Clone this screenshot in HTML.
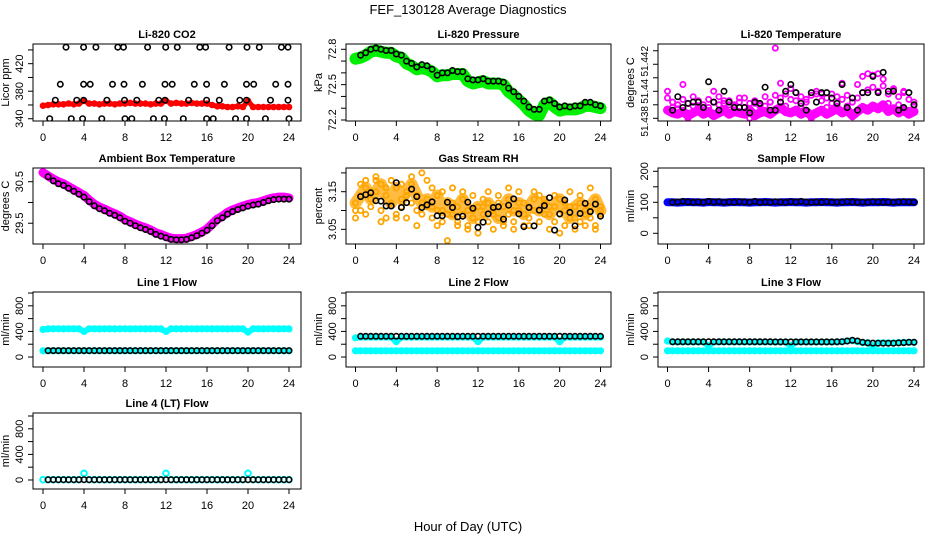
<!DOCTYPE html>
<html><head><meta charset="utf-8"><title>FEF_130128 Average Diagnostics</title>
<style>
html,body{margin:0;padding:0;background:#fff;}
svg{display:block;font-family:"Liberation Sans",Arial,sans-serif;}
</style></head>
<body>
<svg id="chart" width="936" height="540" viewBox="0 0 936 540" xmlns="http://www.w3.org/2000/svg">
<rect width="936" height="540" fill="#fff"/>
<text x="468" y="14" text-anchor="middle" font-size="13">FEF_130128  Average Diagnostics</text>
<text x="468" y="531" text-anchor="middle" font-size="13">Hour of Day (UTC)</text>
</svg>
<script>
const hours = [0,0.5,1,1.5,2,2.5,3,3.5,4,4.5,5,5.5,6,6.5,7,7.5,8,8.5,9,9.5,10,10.5,11,11.5,12,12.5,13,13.5,14,14.5,15,15.5,16,16.5,17,17.5,18,18.5,19,19.5,20,20.5,21,21.5,22,22.5,23,23.5,24];
const xTickLabels = [0,4,8,12,16,20,24];

const co2Red = [359,360,361,361,361,362,361,362,366,362, 362,361,362,362,361,362,362,363,362,362, 362,361,362,362,366,362,363,362,362,363, 362,362,362,360,358,358,357,357,358,357, 366,357,357,357,357,357,357,357,357];
const co2BlackX = [0.65,2.76,3.86,5.74,8.0,8.66,10.77,11.84,13.69,15.96,16.6,18.78,19.85,21.7,24, 1.2,3.3,3.96,6.23,7.95,9.15,11.3,11.9,14.2,15.96,17.2,19.2,19.85,22.2,23.9, 1.69,3.96,4.6,6.78,7.9,9.7,11.9,12.6,14.76,15.96,17.7,19.85,20.56,22.7,23.9, 2.24,3.96,5.16,7.3,7.85,10.2,11.97,13.1,15.3,15.86,18.16,19.9,21.1,23.26,23.9];
const co2BlackY = [340,340,340,340,340,340,340,340,340,340,340,340,340,340,340, 367,367,367,367,367,367,367,367,367,367,367,367,367,367,367, 390,390,390,390,390,390,390,390,390,390,390,390,390,390,390, 444,444,444,444,444,444,444,444,444,444,444,444,444,444,444];

const presGreen = [72.72,72.73,72.75,72.78,72.79,72.78,72.77,72.77,72.74,72.73, 72.68,72.66,72.63,72.64,72.63,72.61,72.57,72.58,72.58,72.59, 72.59,72.59,72.53,72.51,72.52,72.53,72.51,72.51,72.51,72.50, 72.44,72.41,72.37,72.33,72.28,72.25,72.24,72.33,72.35,72.31, 72.28,72.29,72.29,72.29,72.30,72.32,72.32,72.31,72.30];
const presBlack = [null,72.75,72.77,72.80,72.81,72.80,72.79,72.79,72.76,72.75, 72.70,72.68,72.65,72.67,72.66,72.63,72.58,72.60,72.60,72.62, 72.61,72.61,72.55,72.54,72.54,72.55,72.53,72.53,72.53,72.52, 72.47,72.44,72.40,72.36,72.31,72.29,72.29,72.36,72.37,72.34, 72.31,72.32,72.31,72.32,72.32,72.35,72.35,72.33,72.32];

const tempMagA = [51.4386,51.4384,51.4383,51.4385,51.4382,51.4384,51.4386,51.4383,51.4385,51.4382, 51.4384,51.4386,51.4383,51.4385,51.4384,51.4383,51.4386,51.4382,51.4384,51.4385, 51.4383,51.4386,51.4388,51.4385,51.4384,51.4386,51.4383,51.4385,51.4382,51.4384, 51.4386,51.4383,51.4385,51.4387,51.4384,51.4386,51.4382,51.4385,51.4388,51.4386, 51.4389,51.4387,51.4390,51.4385,51.4387,51.4384,51.4386,51.4383,51.4385];
const tempMagB = [51.4395,51.4392,51.4390,51.4394,51.4391,51.4396,51.4393,51.4390,51.4394,51.4392, 51.4396,51.4391,51.4393,51.4390,51.4392,51.4395,51.4391,51.4393,51.4390,51.4396, 51.4392,51.4397,51.4395,51.4398,51.4394,51.4393,51.4396,51.4392,51.4397,51.4398, 51.4393,51.4395,51.4391,51.4396,51.4394,51.4397,51.4392,51.4395,51.4399,51.4401, 51.4403,51.4400,51.4404,51.4398,51.4401,51.4396,51.4399,51.4394,51.4392];
const tempMagC = [51.4400,51.4388,51.4387,51.4405,51.4380,51.4389,51.4388,51.4386,51.4388,51.4400, 51.4390,51.4393,51.4390,51.4389,51.4395,51.4388,51.4380,51.4391,51.4389,51.4389, 51.4392,51.4432,51.4406,51.4389,51.4402,51.4399,51.4389,51.4394,51.4380,51.4400, 51.4398,51.4388,51.4398,51.4389,51.4406,51.4389,51.4381,51.4405,51.4411,51.4413, 51.4412,51.4413,51.4409,51.4391,51.4402,51.4390,51.4400,51.4386,51.4389];
const tempBlack = [null,51.4386,51.4396,51.4388,51.4391,51.4392,51.4392,51.4388,51.4407,51.4392, 51.4386,51.4400,51.4392,51.4388,51.4388,51.4388,51.4384,51.4392,51.4391,51.4403, 51.4386,51.4386,51.4392,51.4400,51.4405,51.4399,51.4391,51.4386,51.4399,51.4392, 51.4399,51.4399,51.4395,51.4391,51.4405,51.4388,51.4395,51.4386,51.4399,51.4399, 51.4411,51.4399,51.4414,51.4400,51.4400,51.4386,51.4388,51.4399,51.4390];

const ambMag = [30.72,30.64,30.56,30.50,30.45,30.38,30.31,30.24,30.17,30.06, 29.96,29.89,29.84,29.78,29.73,29.67,29.59,29.54,29.48,29.43, 29.39,29.34,29.27,29.23,29.18,29.14,29.13,29.13,29.14,29.18, 29.23,29.29,29.36,29.48,29.60,29.67,29.76,29.82,29.87,29.91, 29.95,29.98,30.00,30.04,30.08,30.11,30.13,30.13,30.11];
const ambBlack = [null,30.62,30.52,30.45,30.41,30.34,30.27,30.20,30.13,30.02, 29.92,29.85,29.80,29.74,29.69,29.63,29.55,29.50,29.44,29.39, 29.35,29.30,29.23,29.19,29.15,29.11,29.10,29.10,29.11,29.15, 29.20,29.26,29.33,29.44,29.56,29.63,29.72,29.78,29.83,29.87, 29.91,29.94,29.96,30.00,30.04,30.07,30.08,30.08,30.08];

const rhOrA = [3.12,3.14,3.16,3.13,3.15,3.17,3.14,3.12,3.16,3.13, 3.15,3.17,3.14,3.12,3.13,3.11,3.14,3.10,3.12,3.09, 3.11,3.13,3.10,3.08,3.11,3.09,3.12,3.10,3.08,3.11, 3.13,3.10,3.12,3.09,3.11,3.13,3.10,3.12,3.09,3.11, 3.13,3.10,3.08,3.11,3.12,3.09,3.11,3.13,3.10];
const rhOrB = [3.08,3.10,3.09,3.11,3.18,3.10,3.08,3.12,3.09,3.11, 3.08,3.12,3.10,3.09,3.11,3.08,3.10,3.07,3.09,3.12, 3.07,3.09,3.06,3.10,3.07,3.11,3.07,3.09,3.12,3.07, 3.09,3.07,3.10,3.06,3.08,3.10,3.07,3.09,3.11,3.07, 3.09,3.06,3.11,3.08,3.07,3.10,3.08,3.06,3.09];
const rhOrC = [3.10,3.17,3.18,3.15,3.19,3.07,3.16,3.18,3.08,3.17, 3.14,3.19,3.06,3.20,3.18,3.16,3.06,3.15,3.02,3.16, 3.06,3.15,3.05,3.14,3.04,3.13,3.15,3.05,3.14,3.06, 3.16,3.05,3.15,3.12,3.06,3.15,3.14,3.13,3.05,3.14, 3.04,3.12,3.15,3.05,3.14,3.06,3.16,3.05,3.11];
const rhBlack = [null,3.137,3.142,3.147,3.126,3.125,3.112,3.112,3.174,3.108, 3.121,3.157,3.137,3.108,3.115,3.123,3.086,3.086,3.122,3.108, 3.083,3.085,3.122,3.106,3.055,3.069,3.091,3.108,3.110,3.077, 3.114,3.131,3.091,3.057,3.108,3.059,3.101,3.113,3.134,3.048, 3.091,3.128,3.095,3.059,3.092,3.119,3.097,3.117,3.085];

const sampBlue = [100,100,99,100,101,100,100,99,101,100, 100,99,100,101,100,100,99,100,100,101, 100,99,100,100,101,100,100,99,100,100, 101,100,100,99,100,100,101,100,99,100, 100,100,101,100,99,100,100,100,100];
const sampBlack = [null,100,101,103,101,100,101,100,103,101, 102,100,101,100,102,101,100,103,100,101, 100,102,101,100,102,101,103,101,100,101, 100,102,100,101,100,102,101,100,101,100, 102,101,100,101,100,101,102,101,100];

const l1CyanHi = [430,440,441,441,440,441,441,440,400,441, 441,440,441,441,440,441,441,440,441,441, 440,441,441,440,400,441,441,440,441,441, 440,441,441,440,441,441,440,441,441,440, 390,441,441,440,441,441,440,441,440];
const l1CyanLo = [97,97,97,97,97,97,97,97,97,97, 97,97,97,97,97,97,97,97,97,97, 97,97,97,97,97,97,97,97,97,97, 97,97,97,97,97,97,97,97,97,97, 97,97,97,97,97,97,97,97,97];
const l1Black = [null,100,100,100,100,100,100,100,100,100, 100,100,100,100,100,100,100,100,100,100, 100,100,100,100,100,100,100,100,100,100, 100,100,100,100,100,100,100,100,100,100, 100,100,100,100,100,100,100,100,100];

const l2CyanHi = [300,310,310,310,310,310,310,310,240,310, 310,310,310,310,310,310,310,310,310,310, 310,310,310,310,240,310,310,310,310,310, 310,310,310,310,310,310,310,310,310,310, 240,310,310,310,310,310,310,310,310];
const l2CyanLo = [97,97,97,97,97,97,97,97,97,97, 97,97,97,97,97,97,97,97,97,97, 97,97,97,97,97,97,97,97,97,97, 97,97,97,97,97,97,97,97,97,97, 97,97,97,97,97,97,97,97,97];
const l2Black = [null,323,323,323,323,323,323,323,323,323, 323,323,323,323,323,323,323,323,323,323, 323,323,323,323,323,323,323,323,323,323, 323,323,323,323,323,323,323,323,323,323, 323,323,323,323,323,323,323,323,323];

const l3CyanHi = [250,235,235,235,235,235,235,235,175,235, 235,235,235,235,235,235,235,235,235,235, 235,235,235,235,175,235,235,235,235,235, 235,235,235,235,240,250,255,240,225,220, 175,220,220,220,220,225,228,230,230];
const l3CyanLo = [97,97,97,97,97,97,97,97,97,97, 97,97,97,97,97,97,97,97,97,97, 97,97,97,97,97,97,97,97,97,97, 97,97,97,97,97,97,97,97,97,97, 97,97,97,97,97,97,97,97,97];
const l3Black = [null,238,238,238,238,238,238,238,238,238, 238,238,238,238,238,238,238,238,238,238, 238,236,236,236,236,236,236,236,236,236, 236,236,236,238,240,250,262,250,230,220, 218,216,216,216,216,220,225,230,230];

const l4Cyan = [5,5,5,5,5,5,5,5,105,5, 5,5,5,5,5,5,5,5,5,5, 5,5,5,5,105,5,5,5,5,5, 5,5,5,5,5,5,5,5,5,5, 105,5,5,5,5,5,5,5,5];
const l4Black = [null,5,5,5,5,5,5,5,5,5, 5,5,5,5,5,5,5,5,5,5, 5,5,5,5,5,5,5,5,5,5, 5,5,5,5,5,5,5,5,5,5, 5,5,5,5,5,5,5,5,5];

const co2Ticks = [340,360,380,400,420,440], co2Labels = ["340","380","420"];
const presTicks = [72.2,72.3,72.4,72.5,72.6,72.7,72.8], presLabels = ["72.2","72.5","72.8"];
const tempTicks = [51.438,51.439,51.44,51.441,51.442,51.443], tempLabels = ["51.438","51.44","51.442"];
const ambTicks = [29.5,30,30.5], ambLabels = ["29.5","30.5"];
const rhTicks = [3.05,3.1,3.15,3.2], rhLabels = ["3.05","3.15"];
const sampTicks = [0,50,100,150,200], sampLabels = ["0","100","200"];
const flowTicks = [0,200,400,600,800,1000], flowLabels = ["0","400","800"];

const NS = "http://www.w3.org/2000/svg";
const svg = document.getElementById('chart');
const cols = [{L:33,R:301,x0:43,x24:289},{L:346,R:611,x0:355.5,x24:600.5},{L:658,R:924,x0:667.5,x24:914}];
const rows = [{T:44,B:121},{T:168,B:244},{T:292,B:367},{T:413,B:489}];
function mk(tag, attrs, parent){const e=document.createElementNS(NS,tag);for(const k in attrs)e.setAttribute(k,attrs[k]);(parent||svg).appendChild(e);return e;}

function panel(cfg){
  const c=cols[cfg.col], r=rows[cfg.row];
  const g=mk('g',{});
  
  
  const xs=h=>c.x0+(h/24)*(c.x24-c.x0);
  const ys=v=>r.B-(v-cfg.ymin)/(cfg.ymax-cfg.ymin)*(r.B-r.T);
  const clip=mk('clipPath',{id:'clip-'+cfg.name},g);
  mk('rect',{x:c.L,y:r.T,width:c.R-c.L,height:r.B-r.T},clip);
  const marks=mk('g',{'clip-path':'url(#clip-'+cfg.name+')'},g);
  
  
  cfg.series.forEach(s=>{
    const sg=mk('g',{},marks);
    
    
    const xv=s.x||hours;
    if(s.band){
      let pts=[];
      s.y.forEach((v,i)=>{if(v!=null)pts.push(xs(xv[i]).toFixed(1)+','+ys(v).toFixed(1));});
      const pl=mk('polyline',{points:pts.join(' '),fill:'none',stroke:s.color,'stroke-opacity':s.bop||1,'stroke-width':s.band,'stroke-linejoin':'round','stroke-linecap':'round'},sg);
      
      
    }
    if(s.pts!==false){
      s.y.forEach((v,i)=>{
        if(v==null)return;
        const ci=mk('circle',{cx:xs(xv[i]).toFixed(1),cy:ys(v).toFixed(1),r:s.r||2.7,fill:'none',stroke:s.color,'stroke-width':s.sw||1.6},sg);
        
        
      });
    }
  });
  const box=mk('rect',{x:c.L,y:r.T,width:c.R-c.L,height:r.B-r.T,fill:'none',stroke:'#000','stroke-width':1},g);
  
  
  const t=mk('text',{x:(c.L+c.R)/2,y:r.T-6,'text-anchor':'middle','font-size':11,'font-weight':'bold'},g);
  t.textContent=cfg.title;
  
  
  xTickLabels.forEach(h=>{
    const x=xs(h);
    const tk=mk('line',{x1:x,y1:r.B,x2:x,y2:r.B+5,stroke:'#000'},g);
    
    
    const tl=mk('text',{x:x,y:r.B+20,'text-anchor':'middle','font-size':11},g);
    tl.textContent=String(h);
    
    
  });
  cfg.ticks.forEach(v=>{
    const y=ys(v);
    const tk=mk('line',{x1:c.L-5,y1:y,x2:c.L,y2:y,stroke:'#000'},g);
    
    
  });
  cfg.labels.forEach((s,i)=>{
    const y=ys(parseFloat(s))+(cfg.loff?cfg.loff[i]:0), x=c.L-10;
    const tl=mk('text',{x:x,y:y,'text-anchor':'middle','font-size':cfg.lfs||11,transform:'rotate(-90 '+x+' '+y+')'},g);
    tl.textContent=s;
    
    
  });
  const ym=(r.T+r.B)/2, xa=c.L-24;
  const at=mk('text',{x:xa,y:ym,'text-anchor':'middle','font-size':11,transform:'rotate(-90 '+xa+' '+ym+')'},g);
  at.textContent=cfg.ylab;
  
  
}

panel({name:'co2',col:0,row:0,title:'Li-820 CO2',ylab:'Licor ppm',ymin:336.7,ymax:448.6,ticks:co2Ticks,labels:co2Labels,
  series:[{name:'co2-raw',y:co2Red,color:'#ff0000',band:5,r:2.4,sw:1.8},{name:'co2-average',x:co2BlackX,y:co2BlackY,color:'#000'}]});
panel({name:'pressure',col:1,row:0,title:'Li-820 Pressure',ylab:'kPa',ymin:72.1915,ymax:72.845,ticks:presTicks,labels:presLabels,
  series:[{name:'pressure-raw',y:presGreen,color:'#00ee00',band:12,r:3,sw:2},{name:'pressure-average',y:presBlack,color:'#000'}]});
panel({name:'temperature',col:2,row:0,title:'Li-820 Temperature',ylab:'degrees C',ymin:51.4378,ymax:51.4435,ticks:tempTicks,labels:tempLabels,lfs:10,loff:[3,0,-3],
  series:[{name:'temperature-raw-a',y:tempMagA,color:'#ff00ff',band:9,r:2.6,sw:1.8},{name:'temperature-raw-b',y:tempMagB,color:'#ff00ff',r:2.6,sw:1.8},{name:'temperature-raw-c',y:tempMagC,color:'#ff00ff',r:2.6,sw:1.8},{name:'temperature-average',y:tempBlack,color:'#000'}]});
panel({name:'ambient-box-temp',col:0,row:1,title:'Ambient Box Temperature',ylab:'degrees C',ymin:29.0,ymax:30.83,ticks:ambTicks,labels:ambLabels,
  series:[{name:'ambient-raw',y:ambMag,color:'#ff00ff',band:9,r:3,sw:2},{name:'ambient-average',y:ambBlack,color:'#000'}]});
panel({name:'gas-stream-rh',col:1,row:1,title:'Gas Stream RH',ylab:'percent',ymin:3.011,ymax:3.213,ticks:rhTicks,labels:rhLabels,
  series:[{name:'rh-raw-a',y:rhOrA,color:'#ffa500',band:12,bop:0.75,r:2.6,sw:1.8},{name:'rh-raw-b',y:rhOrB,color:'#ffa500',r:2.6,sw:1.8},{name:'rh-raw-c',y:rhOrC,color:'#ffa500',r:2.6,sw:1.8},{name:'rh-average',y:rhBlack,color:'#000'}]});
panel({name:'sample-flow',col:2,row:1,title:'Sample Flow',ylab:'ml/min',ymin:-34.5,ymax:210.6,ticks:sampTicks,labels:sampLabels,
  series:[{name:'sample-flow-raw',y:sampBlue,color:'#0000ff',band:8,r:2.6,sw:2},{name:'sample-flow-average',y:sampBlack,color:'#000'}]});
panel({name:'line1-flow',col:0,row:2,title:'Line 1 Flow',ylab:'ml/min',ymin:-156,ymax:1016,ticks:flowTicks,labels:flowLabels,
  series:[{name:'line1-raw-high',y:l1CyanHi,color:'#00ffff',band:6,r:2.6,sw:2},{name:'line1-raw-low',y:l1CyanLo,color:'#00ffff',band:6,r:2.6,sw:2},{name:'line1-average',y:l1Black,color:'#000'}]});
panel({name:'line2-flow',col:1,row:2,title:'Line 2 Flow',ylab:'ml/min',ymin:-156,ymax:1016,ticks:flowTicks,labels:flowLabels,
  series:[{name:'line2-raw-high',y:l2CyanHi,color:'#00ffff',band:6,r:2.6,sw:2},{name:'line2-raw-low',y:l2CyanLo,color:'#00ffff',band:6,r:2.6,sw:2},{name:'line2-average',y:l2Black,color:'#000'}]});
panel({name:'line3-flow',col:2,row:2,title:'Line 3 Flow',ylab:'ml/min',ymin:-156,ymax:1016,ticks:flowTicks,labels:flowLabels,
  series:[{name:'line3-raw-high',y:l3CyanHi,color:'#00ffff',band:6,r:2.6,sw:2},{name:'line3-raw-low',y:l3CyanLo,color:'#00ffff',band:6,r:2.6,sw:2},{name:'line3-average',y:l3Black,color:'#000'}]});
panel({name:'line4-flow',col:0,row:3,title:'Line 4 (LT) Flow',ylab:'ml/min',ymin:-141,ymax:1047,ticks:flowTicks,labels:flowLabels,
  series:[{name:'line4-raw',y:l4Cyan,color:'#00ffff',r:2.8,sw:2},{name:'line4-average',y:l4Black,color:'#000'}]});
</script>
</body></html>
